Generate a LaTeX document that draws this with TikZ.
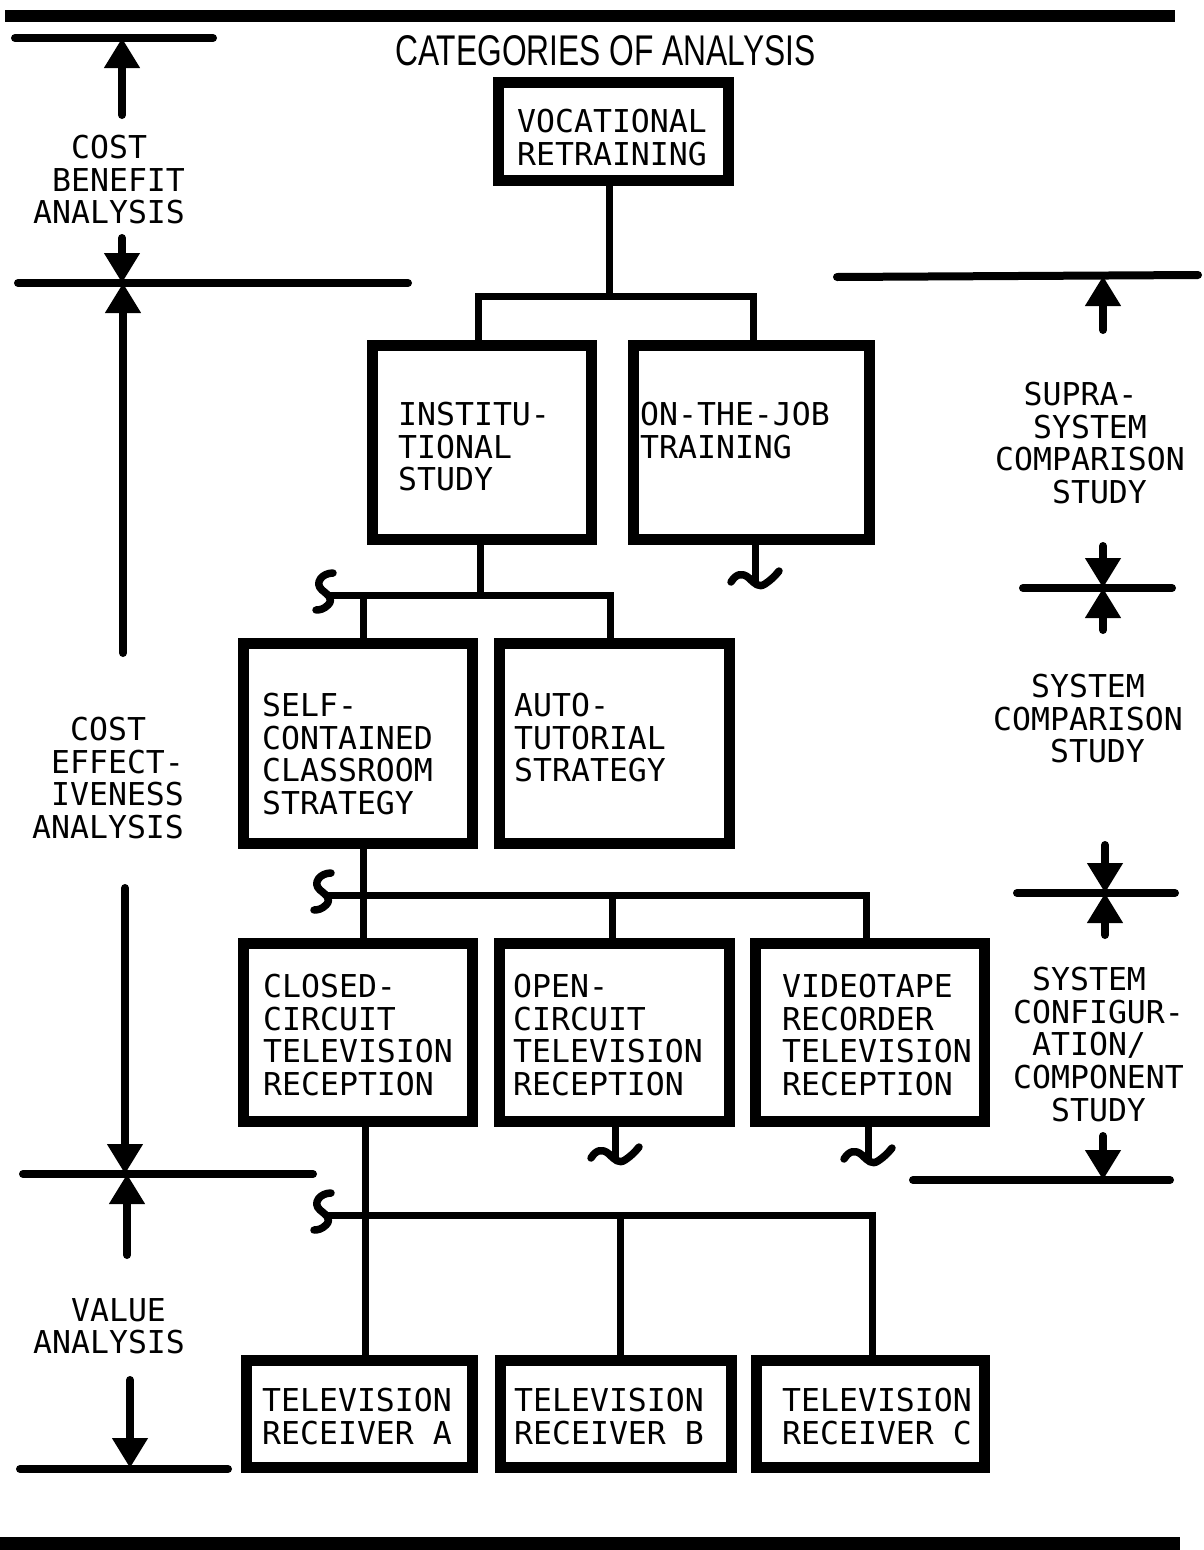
\documentclass[tikz,border=0pt]{standalone}
\usepackage{fontspec}
\usepackage{graphicx}
\setsansfont{Liberation Sans}
\newfontfamily\monofam{DejaVu Sans Mono}
\usetikzlibrary{arrows.meta}
\newcommand{\chind}[1]{\hspace*{#1\fontcharwd\font`M}}
\newcommand{\fs}{\rule{0pt}{23pt}}
\begin{document}
\begin{tikzpicture}[x=1pt,y=-1pt,
  box/.style={draw, line width=11pt, inner sep=0pt},
  txt/.style={inner sep=0pt, anchor=north west, align=left, font=\monofam\fontsize{31.5}{32.7}\selectfont},
  conn/.style={line width=7pt},
  scl/.style={line width=8pt, line cap=round},
  arr/.style={line width=8pt, line cap=round, -{Triangle[width=34pt,length=30pt]}},
  squig/.style={line width=7.5pt, line cap=round, line join=round},
  tildemark/.pic={\draw[squig] (-24,-2) .. controls (-19,-10) and (-13,-12) .. (-6,-6) .. controls (0,0) and (4,4) .. (10,0) .. controls (16,-4) and (20,-8) .. (24,-13);},
  smark/.pic={\draw[squig] (3,-22) .. controls (-8,-22) and (-16,-12) .. (-8,-5) .. controls (-2,0) and (4,4) .. (-2,10) .. controls (-6,14) and (-10,15) .. (-14,15);}
]
\useasboundingbox (0,0) rectangle (1203,1550);
% bars
\fill (5,10) rectangle (1175,22);
\fill (0,1537) rectangle (1180,1550);
% title
\node[anchor=base west, inner sep=0pt] (title) at (395,65) {\resizebox{420pt}{30pt}{\sffamily CATEGORIES OF ANALYSIS}};
% boxes
\node[box, minimum width=230pt, minimum height=98pt] (voc) at (613.5,131.5) {};
\node[box, minimum width=219pt, minimum height=194pt] (inst) at (482,442.5) {};
\node[box, minimum width=236pt, minimum height=194pt] (ojt) at (751.5,442.5) {};
\node[box, minimum width=229pt, minimum height=200pt] (self) at (358,743.5) {};
\node[box, minimum width=230pt, minimum height=200pt] (auto) at (614.5,743.5) {};
\node[box, minimum width=229pt, minimum height=178pt] (cctv) at (358,1032.5) {};
\node[box, minimum width=230pt, minimum height=178pt] (open) at (614.5,1032.5) {};
\node[box, minimum width=229pt, minimum height=178pt] (vtr) at (870,1032.5) {};
\node[box, minimum width=226pt, minimum height=107pt] (ra) at (359.5,1414) {};
\node[box, minimum width=231pt, minimum height=107pt] (rb) at (616,1414) {};
\node[box, minimum width=228pt, minimum height=107pt] (rc) at (870.5,1414) {};
% box texts
\node[txt] (voc-t) at (517,109) {\fs VOCATIONAL\\RETRAINING};
\node[txt] (inst-t) at (398,402) {\fs INSTITU-\\TIONAL\\STUDY};
\node[txt] (ojt-t) at (640,402) {\fs ON-THE-JOB\\TRAINING};
\node[txt] (self-t) at (262,693) {\fs SELF-\\CONTAINED\\CLASSROOM\\STRATEGY};
\node[txt] (auto-t) at (514,693) {\fs AUTO-\\TUTORIAL\\STRATEGY};
\node[txt] (cctv-t) at (263,974) {\fs CLOSED-\\CIRCUIT\\TELEVISION\\RECEPTION};
\node[txt] (open-t) at (513,974) {\fs OPEN-\\CIRCUIT\\TELEVISION\\RECEPTION};
\node[txt] (vtr-t) at (782,974) {\fs VIDEOTAPE\\RECORDER\\TELEVISION\\RECEPTION};
\node[txt] (ra-t) at (262,1388) {\fs TELEVISION\\RECEIVER A};
\node[txt] (rb-t) at (514,1388) {\fs TELEVISION\\RECEIVER B};
\node[txt] (rc-t) at (782,1388) {\fs TELEVISION\\RECEIVER C};
% side labels
\node[txt] (cb-t) at (33,135) {\fs\chind{2}COST\\\chind{1}BENEFIT\\ANALYSIS};
\node[txt] (ce-t) at (32,717) {\fs\chind{2}COST\\\chind{1}EFFECT-\\\chind{1}IVENESS\\ANALYSIS};
\node[txt] (va-t) at (33,1298) {\fs\chind{2}VALUE\\ANALYSIS};
\node[txt] (ss-t) at (995,382) {\fs\chind{1.5}SUPRA-\\\chind{2}SYSTEM\\COMPARISON\\\chind{3}STUDY};
\node[txt] (sc-t) at (993,674) {\fs\chind{2}SYSTEM\\COMPARISON\\\chind{3}STUDY};
\node[txt] (cc-t) at (1013,967) {\fs\chind{1}SYSTEM\\CONFIGUR-\\\chind{1}ATION/\\COMPONENT\\\chind{2}STUDY};
% connectors
\coordinate (j1) at (609,296);
\draw[conn] ([xshift=-4.5pt]voc.south) -- (j1);
\draw[conn] ([xshift=-4pt]inst.north) |- (j1) -| ([xshift=1.5pt]ojt.north);
\coordinate (j2) at (480,595);
\coordinate (s2) at (330,595);
\draw[conn] ([xshift=-2pt]inst.south) -- (j2);
\draw[conn] (s2) -| ([xshift=-4.5pt]auto.north);
\draw[conn] ([xshift=5pt]self.north) |- (s2);
\coordinate (s3) at (328,895);
\draw[conn] ([xshift=5pt]self.south) |- (s3);
\draw[conn] (s3) -| ([xshift=-4pt]vtr.north);
\draw[conn] ([xshift=-2.5pt]open.north) |- (s3);
\draw[conn] ([xshift=5pt]cctv.north) |- (s3);
\coordinate (s4) at (328,1215);
\draw[conn] ([xshift=7pt]cctv.south) -- ([xshift=5.5pt]ra.north);
\draw[conn] (s4) -| ([xshift=1.5pt]rc.north);
\draw[conn] ([xshift=4pt]rb.north) |- (s4);
\pic at (s2) {smark};
\pic at (s3) {smark};
\pic at (s4) {smark};
% stubs
\coordinate (t1) at (755,584);
\draw[conn] ([xshift=3.5pt]ojt.south) -- (t1);
\coordinate (t2) at (615,1160);
\draw[conn] ([xshift=0.5pt]open.south) -- (t2);
\coordinate (t3) at (868,1161);
\draw[conn] ([xshift=-2pt]vtr.south) -- (t3);
\pic at (t1) {tildemark};
\pic at (t2) {tildemark};
\pic at (t3) {tildemark};
% left scale
\draw[scl] (15,38) -- (213,38);
\draw[arr] (122,115) -- (122,38);
\draw[scl] (18,283) -- (408,283);
\draw[arr] (122,238) -- (122,283);
\draw[arr] (123,653) -- (123,283);
\draw[arr] (125,888) -- (125,1174);
\draw[scl] (23,1174) -- (313,1174);
\draw[arr] (127,1255) -- (127,1174);
\draw[arr] (130,1380) -- (130,1468);
\draw[scl] (20,1469) -- (228,1469);
% right scale
\draw[scl] (837,277) -- (1198,275);
\draw[arr] (1103,330) -- (1103,276);
\draw[scl] (1023,588) -- (1172,588);
\draw[arr] (1103,546) -- (1103,588);
\draw[arr] (1103,630) -- (1103,588);
\draw[scl] (1017,893) -- (1175,893);
\draw[arr] (1105,845) -- (1105,893);
\draw[arr] (1105,935) -- (1105,893);
\draw[scl] (913,1180) -- (1170,1180);
\draw[arr] (1103,1136) -- (1103,1180);
\end{tikzpicture}
\end{document}
